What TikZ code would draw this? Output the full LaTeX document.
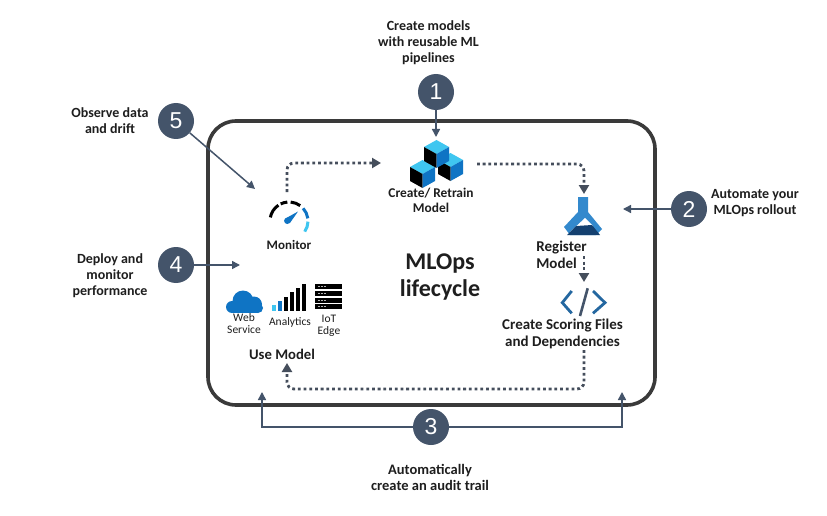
\documentclass[tikz,border=0pt]{standalone}
\usepackage{fontspec}
\setmainfont{Carlito}
\newfontfamily\digitfont{Liberation Sans}
\usetikzlibrary{arrows.meta}
\definecolor{slate}{HTML}{44546A}
\definecolor{dotgray}{HTML}{454E5C}
\definecolor{framegray}{HTML}{3A3A3A}
\definecolor{txtdark}{HTML}{1E1E1E}
\definecolor{azdark}{HTML}{0F74C4}
\definecolor{azlight}{HTML}{3FC6F0}
\definecolor{aznavy}{HTML}{14406F}
\tikzset{
numdot/.style={circle,fill=slate,text=white,minimum size=36pt,inner sep=0pt,font=\digitfont\fontsize{23}{23}\selectfont},
lbl/.style={align=center,text=txtdark,inner sep=0pt,font=\fontsize{14}{16}\selectfont\bfseries},
sublbl/.style={align=center,text=txtdark,inner sep=0pt,font=\fontsize{11.5}{12}\selectfont},
solidarr/.style={draw=slate,line width=1.5pt,-{Triangle[length=8pt,width=8pt]}},
dotarr/.style={draw=dotgray,line width=2.8pt,dash pattern=on 2.8pt off 2.9pt,rounded corners=7pt,-{Triangle[length=9pt,width=10pt]}},
cubeicon/.pic={
\fill[azlight](0,0)--(12.5,-7)--(25,0)--(12.5,7)--cycle;
\fill[black](0,0)--(12.5,7)--(12.5,21)--(0,14)--cycle;
\fill[azdark](25,0)--(12.5,7)--(12.5,21)--(25,14)--cycle;
}
}
\begin{document}
\begin{tikzpicture}[x=1pt,y=-1pt]
\useasboundingbox[fill=white](0,0)rectangle(827,516);
%
\draw[framegray,line width=3.6pt,rounded corners=28pt](208,121)rectangle(655,405);
%
\node[numdot](stepone)at(436,92){1};
\node[numdot](steptwo)at(689,209){2};
\node[numdot](stepthree)at(431,427){3};
\node[numdot](stepfour)at(176,265){4};
\node[numdot](stepfive)at(176,121){5};
%
\node[lbl](createnote)at(428.5,43){Create models\\with reusable ML\\pipelines};
\node[lbl](observenote)at(110,121){Observe data\\and drift};
\node[lbl](automatenote)at(755,203){Automate your\\MLOps rollout};
\node[lbl](deploynote)at(110,276){Deploy and\\monitor\\performance};
\node[lbl,font=\fontsize{14.5}{16}\selectfont\bfseries](auditnote)at(430,477){Automatically\\create an audit trail};
\node[align=center,text=txtdark,inner sep=0pt,font=\fontsize{24}{27}\selectfont\bfseries](title)at(440,277){MLOps\\lifecycle};
%
\node[lbl,font=\fontsize{13.4}{15}\selectfont\bfseries](retrain)at(431,200){Create/ Retrain\\Model};
\node[lbl,font=\fontsize{13}{15}\selectfont\bfseries](monitor)at(289,245){Monitor};
\node[lbl,align=left,font=\fontsize{15}{17}\selectfont\bfseries](register)at(561.5,255){Register\\Model};
\node[lbl,font=\fontsize{15}{16.5}\selectfont\bfseries](scoring)at(562.5,334){Create Scoring Files\\and Dependencies};
\node[lbl,font=\fontsize{14.7}{17}\selectfont\bfseries](usemodel)at(282,354){Use Model};
\node[sublbl](webservice)at(244,323.5){Web\\Service};
\node[sublbl](analytics)at(290,322){Analytics};
\node[sublbl](iotedge)at(329,326){IoT\\Edge};
%
\coordinate(retraintop)at(436,137);
\coordinate(monitorend)at(255,189);
\coordinate(useend)at(240,265);
\coordinate(registerend)at(623,209);
\coordinate(frameleft)at(262,392);
\coordinate(frameright)at(622,392);
%
\draw[solidarr](stepone)--(retraintop);
\draw[solidarr](stepfive)--(monitorend);
\draw[solidarr](stepfour)--(useend);
\draw[solidarr](steptwo)--(registerend);
\draw[solidarr](stepthree)-|(frameleft);
\draw[solidarr](stepthree)-|(frameright);
%
\coordinate(monitorout)at(287,192);
\coordinate(retrainin)at(381,163);
\coordinate(retrainout)at(477,164);
\coordinate(registerin)at(584,194);
\coordinate(registerout)at(584,256);
\coordinate(scoringin)at(584,282);
\coordinate(scoringout)at(584,350);
\coordinate(usein)at(287,363);
\draw[dotarr](monitorout)|-(retrainin);
\draw[dotarr](retrainout)-|(registerin);
\draw[dotarr](registerout)--(scoringin);
\draw[dotarr](scoringout)--(584,389)--(287,389)--(usein);
%
\path(410,167)pic{cubeicon};
\path(438,160)pic{cubeicon};
\path(424,147)pic{cubeicon};
%
\fill[azdark!85!white](578,197)--(588,197)--(588,212)--(602,229)--(596,235)--(570,235)--(564,227)--(578,212)--cycle;
\fill[white](570,232)--(585,218)--(593,226)--(576,232)--cycle;
\fill[aznavy](576,226)--(592,225)--(600,235)--(567,235)--cycle;
%
\draw[slate!40!azdark,line width=2.8pt](571.7,291)--(562.3,302.7)--(571.7,313.3);
\draw[slate!40!azdark,line width=2.8pt](593,291)--(605,302.7)--(593,313.3);
\draw[slate,line width=2.6pt](587.7,288.3)--(580,316);
%
\fill[azdark](243,301)circle(10.5);
\fill[azdark](232,307)circle(6);
\fill[azdark](254,304.5)circle(8);
\fill[azdark](258,308)circle(5);
\fill[azdark](232,306)rectangle(258,313);
%
\foreach \bx/\btop/\bcol in {272/305/azlight,278/301/azdark,284/297/black,290/292/black,296/288/black,302/284/black}
\fill[\bcol](\bx,\btop)rectangle(\bx+3.7,311);
%
\foreach \sy in {284,291,297.5,304}{
\fill[black](315,\sy)rectangle(342,\sy+5);
\foreach \sx in {318,321,324}\fill[gray!60](\sx,\sy+2)rectangle(\sx+1.8,\sy+3.2);
}
%
\foreach \ga/\gb/\gcol in {169/124/black,116/95/black,85/54/black,42/8/azdark,-2/-34/azlight}
\draw[\gcol,line width=3pt]({289+19*cos(\ga)},{221-19*sin(\ga)})arc(-\ga:-\gb:19);
\fill[azdark](285.8,218.3)--(298,211.5)--(289.8,223.2)--cycle;
\fill[azdark](287.3,220.8)circle(3.2);
\end{tikzpicture}
\end{document}
